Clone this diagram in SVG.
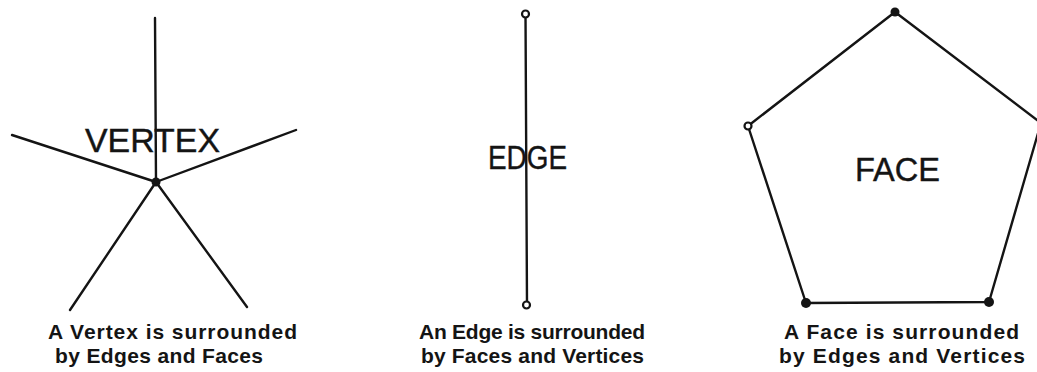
<svg xmlns="http://www.w3.org/2000/svg" width="1037" height="372" viewBox="0 0 1037 372">
<style>
.ln{stroke:#141414;stroke-width:2.4;fill:none;stroke-linecap:round;stroke-linejoin:round}
.dot{fill:#141414}
.ring{fill:#fff;stroke:#141414;stroke-width:2.2}
.lbl{font-family:"Liberation Sans",Arial,sans-serif;fill:#141414;stroke:#141414;stroke-width:0.4}
.cap{font-family:"Liberation Sans",Arial,sans-serif;font-weight:bold;font-size:21px;fill:#141414}
</style>
<rect width="1037" height="372" fill="#fff"/>
<g id="connectors">
<line class="ln" x1="156" y1="182" x2="155" y2="18"/>
<line class="ln" x1="156" y1="182" x2="12" y2="135"/>
<line class="ln" x1="156" y1="182" x2="296" y2="130"/>
<line class="ln" x1="156" y1="182" x2="70" y2="310"/>
<line class="ln" x1="156" y1="182" x2="247" y2="307"/>
<line class="ln" x1="525.5" y1="14" x2="527" y2="305"/>
<polygon class="ln" points="895,12 1041,123 989,302 806,303 748,126"/>
</g>
<g id="vertex-node">
<text class="lbl" x="85" y="152" font-size="33" textLength="135" lengthAdjust="spacingAndGlyphs">VERTEX</text>
<circle class="dot" cx="156" cy="182" r="4.5"/>
<text class="cap" x="48" y="339" textLength="249" lengthAdjust="spacing">A Vertex is surrounded</text>
<text class="cap" x="55" y="363" textLength="208" lengthAdjust="spacing">by Edges and Faces</text>
</g>
<g id="edge-node">
<circle class="ring" cx="525.5" cy="14" r="3.5"/>
<circle class="ring" cx="526.5" cy="305" r="3.5"/>
<text class="lbl" x="488" y="169" font-size="34" textLength="79" lengthAdjust="spacingAndGlyphs">EDGE</text>
<text class="cap" x="419" y="339" textLength="226" lengthAdjust="spacing">An Edge is surrounded</text>
<text class="cap" x="421" y="363" textLength="223" lengthAdjust="spacing">by Faces and Vertices</text>
</g>
<g id="face-node">
<circle class="dot" cx="895" cy="12" r="4.5"/>
<circle class="ring" cx="748" cy="126" r="3.5"/>
<circle class="dot" cx="806" cy="303" r="5"/>
<circle class="dot" cx="989" cy="302" r="5"/>
<text class="lbl" x="855" y="181" font-size="33" textLength="85" lengthAdjust="spacingAndGlyphs">FACE</text>
<text class="cap" x="784" y="339" textLength="235" lengthAdjust="spacing">A Face is surrounded</text>
<text class="cap" x="779" y="363" textLength="246" lengthAdjust="spacing">by Edges and Vertices</text>
</g>
</svg>
